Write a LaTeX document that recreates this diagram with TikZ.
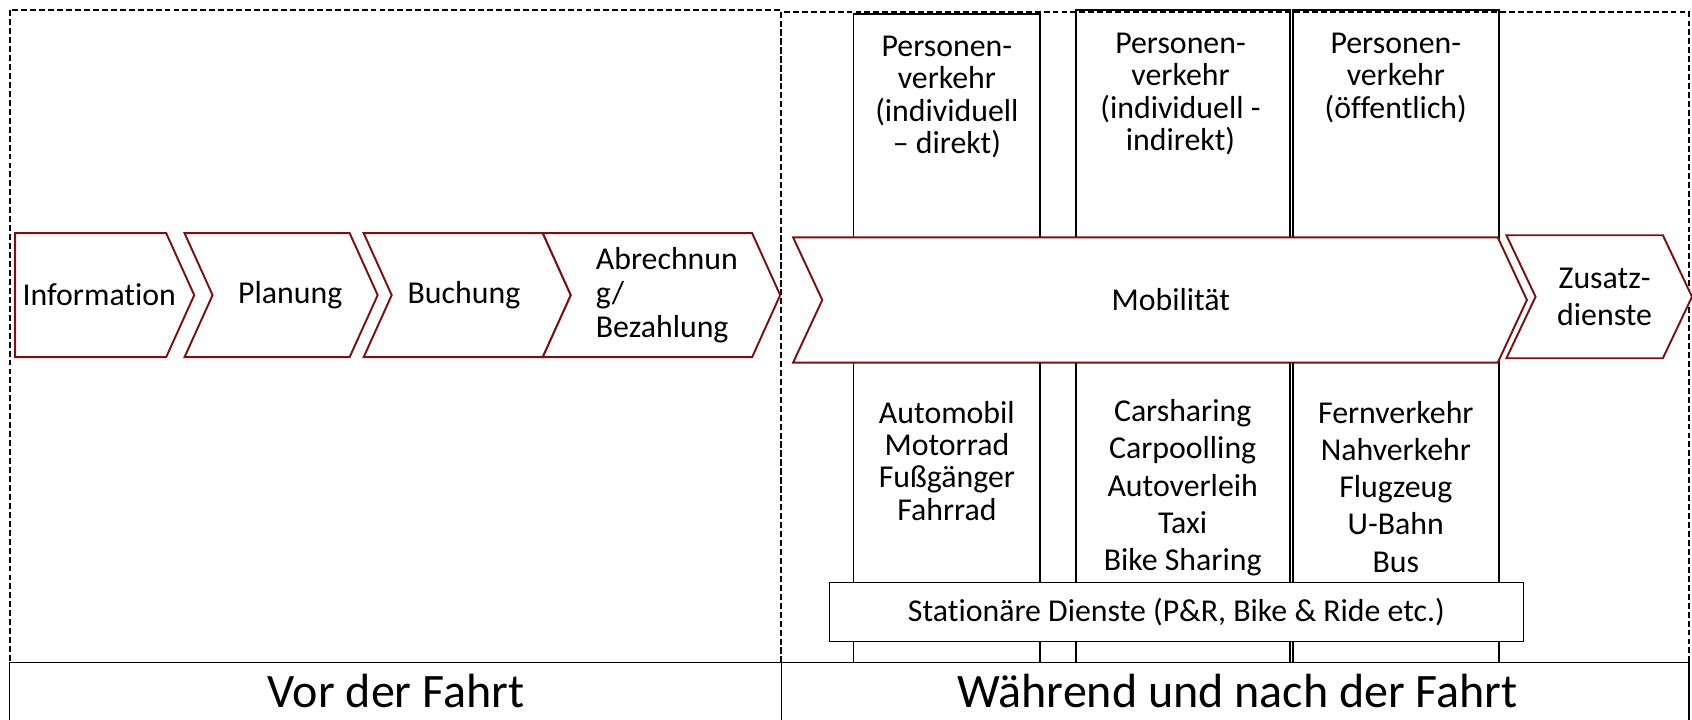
\documentclass[tikz,border=0pt]{standalone}
\usepackage{fontspec}
\setmainfont{Carlito}[RawFeature={-liga}]
\definecolor{chevc}{RGB}{118,18,18}
\begin{document}
\begin{tikzpicture}[x=1pt,y=-1pt,
  chev/.style={draw=chevc, line width=1.8pt, fill=white, line join=miter},
  colbox/.style={draw=black, line width=1.6pt},
  phasebox/.style={draw=black, dash pattern=on 5.5pt off 2.8pt, line width=1.6pt},
  solidbox/.style={draw=black, line width=1.4pt},
  lbl/.style={font=\fontsize{29.5}{30}\selectfont, align=center, inner sep=0pt},
  lstA/.style={font=\fontsize{29.5}{30}\selectfont, align=center, inner sep=0pt},
  lstB/.style={font=\fontsize{29.5}{34.5}\selectfont, align=center, inner sep=0pt},
  big/.style={font=\fontsize{44.5}{48}\selectfont, inner sep=0pt}]
\useasboundingbox (0,0) rectangle (1568,667);
\clip (0,0) rectangle (1568,667);
% phase regions
\draw[phasebox] (9,9.5) rectangle (724,614);
\draw[phasebox] (724,11) rectangle (1565,614);
% columns
\draw[colbox] (791,13) rectangle (964,614);
\draw[colbox] (997,9) rectangle (1195.5,614);
\draw[colbox] (1198.5,9) rectangle (1389,614);
\node[lbl] (c1t) at (877.5,90) {Personen-\\verkehr\\(individuell\\– direkt)};
\node[lbl] (c2t) at (1094,87) {Personen-\\verkehr\\(individuell -\\indirekt)};
\node[lbl] (c3t) at (1293.5,72) {Personen-\\verkehr\\(öffentlich)};
\node[lstA] (c1b) at (877.5,427) {Automobil\\Motorrad\\Fußgänger\\Fahrrad};
\node[lstB] (c2b) at (1096,452) {Carsharing\\Carpoolling\\Autoverleih\\Taxi\\Bike Sharing};
\node[lstB] (c3b) at (1293.5,451) {Fernverkehr\\Nahverkehr\\Flugzeug\\U-Bahn\\Bus};
% chevrons before the trip
\draw[chev] (14,216) -- (154,216) -- (180,273.5) -- (154,331) -- (14,331) -- cycle;
\node[lbl] (info) at (92,273.5) {Information};
\draw[chev] (171,216) -- (324,216) -- (350,273.5) -- (324,331) -- (171,331) -- (197,273.5) -- cycle;
\node[lbl] (plan) at (269,273.5) {Planung};
\draw[chev] (337,216) -- (503,216) -- (529,273.5) -- (503,331) -- (337,331) -- (363,273.5) -- cycle;
\node[lbl] (buch) at (430,273.5) {Buchung};
\draw[chev] (503,216) -- (697,216) -- (723,273.5) -- (697,331) -- (503,331) -- (529,273.5) -- cycle;
\node[lbl, align=left, anchor=west, font=\fontsize{29.5}{31.5}\selectfont] (abr) at (552,273.5) {Abrechnun\\g/\\Bezahlung};
% chevrons during the trip
\draw[chev] (735,220) -- (1388,220) -- (1415,278) -- (1388,336) -- (735,336) -- (762,278) -- cycle;
\node[lbl] (mob) at (1085,278) {Mobilität};
\draw[chev] (1396,218) -- (1541,218) -- (1568,275) -- (1541,332) -- (1396,332) -- (1423,275) -- cycle;
\node[lbl, font=\fontsize{29.5}{34}\selectfont] (zus) at (1487,275) {Zusatz-\\dienste};
% stationary services
\node[solidbox, fill=white, minimum width=643pt, minimum height=55pt, font=\fontsize{29.5}{30}\selectfont, anchor=north west] (stat) at (768,539) {Stationäre Dienste (P\&R, Bike \& Ride etc.)};
% bottom phase labels
\draw[solidbox] (9,614) rectangle (724,680);
\draw[solidbox] (724,614) rectangle (1565,680);
\node[big] (vor) at (367,640) {Vor der Fahrt};
\node[big] (wae) at (1147,640) {Während und nach der Fahrt};
\end{tikzpicture}
\end{document}
